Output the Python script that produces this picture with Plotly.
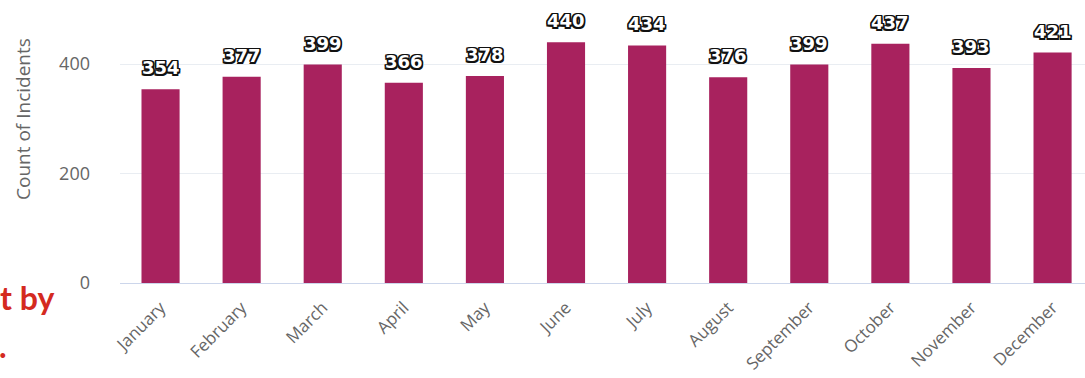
import plotly.graph_objects as go

months = ["January", "February", "March", "April", "May", "June", "July",
          "August", "September", "October", "November", "December"]
incidents = [354, 377, 399, 366, 378, 440, 434, 376, 399, 437, 393, 421]
y_ticks = [0, 200, 400]

bar_color = "#a8225e"
grey = "#666666"

W, H = 1085, 378
LEFT, TOP, BOTTOM = 120, 0, 95


def px_to_paper(px, py):
    """Pixel position on the page -> paper coordinates of the plot area."""
    return (px - LEFT) / (W - LEFT), 1 - (py - TOP) / (H - TOP - BOTTOM)


fig = go.Figure()
fig.add_trace(go.Bar(
    x=months,
    y=incidents,
    marker=dict(color=bar_color, line=dict(width=0)),
    width=0.47,
    hoverinfo="x+y",
))

# value labels above each bar, white with a dark outline
outline = ", ".join(f"{dx}px {dy}px 0 #111"
                    for dx in (-1.5, 0, 1.5) for dy in (-1.5, 0, 1.5)
                    if (dx, dy) != (0, 0))
for m, v in zip(months, incidents):
    fig.add_annotation(
        x=m, y=v, text=str(v), showarrow=False,
        xref="x", yref="y", yanchor="bottom", yshift=9,
        font=dict(family="DejaVu Sans", size=18, color="white", weight="bold",
                  shadow=outline),
    )

# y axis title
tx, ty = px_to_paper(23, 119)
fig.add_annotation(
    x=tx, y=ty, xref="paper", yref="paper", text="Count of Incidents",
    showarrow=False, textangle=-90, xanchor="center", yanchor="middle",
    font=dict(family="Open Sans", size=19, color=grey),
)

# partial red caption on the left edge
cx, cy = px_to_paper(-2, 297)
fig.add_annotation(
    x=cx, y=cy, xref="paper", yref="paper", text="t by", showarrow=False,
    xanchor="left", yanchor="middle",
    font=dict(family="Lato", size=32, color="#d42a1f", weight="bold"),
)
dx_, dy_ = px_to_paper(-3, 345)
fig.add_annotation(
    x=dx_, y=dy_, xref="paper", yref="paper", text=".", showarrow=False,
    xanchor="left", yanchor="middle",
    font=dict(family="Lato", size=32, color="#d42a1f", weight="bold"),
)

fig.update_layout(
    width=W, height=H,
    margin=dict(l=LEFT, r=0, t=TOP, b=BOTTOM, autoexpand=False),
    paper_bgcolor="white",
    plot_bgcolor="white",
    showlegend=False,
    font=dict(family="Open Sans", color=grey),
)
fig.update_xaxes(
    range=[-0.5, 11.4],
    tickangle=-45,
    tickfont=dict(family="Open Sans", size=17, color=grey),
    showline=True, linecolor="#ccd6eb", linewidth=1,
    showgrid=False, ticks="",
    ticklabelstandoff=7,
    automargin=False,
)
fig.update_yaxes(
    range=[0, 517],
    tickvals=y_ticks,
    tickfont=dict(family="Open Sans", size=18, color=grey),
    showgrid=True, gridcolor="#e9edf2", gridwidth=1,
    zeroline=False, showline=False,
    ticklabelstandoff=29,
    automargin=False,
)

fig.write_html("out.html", config={"displayModeBar": False})
